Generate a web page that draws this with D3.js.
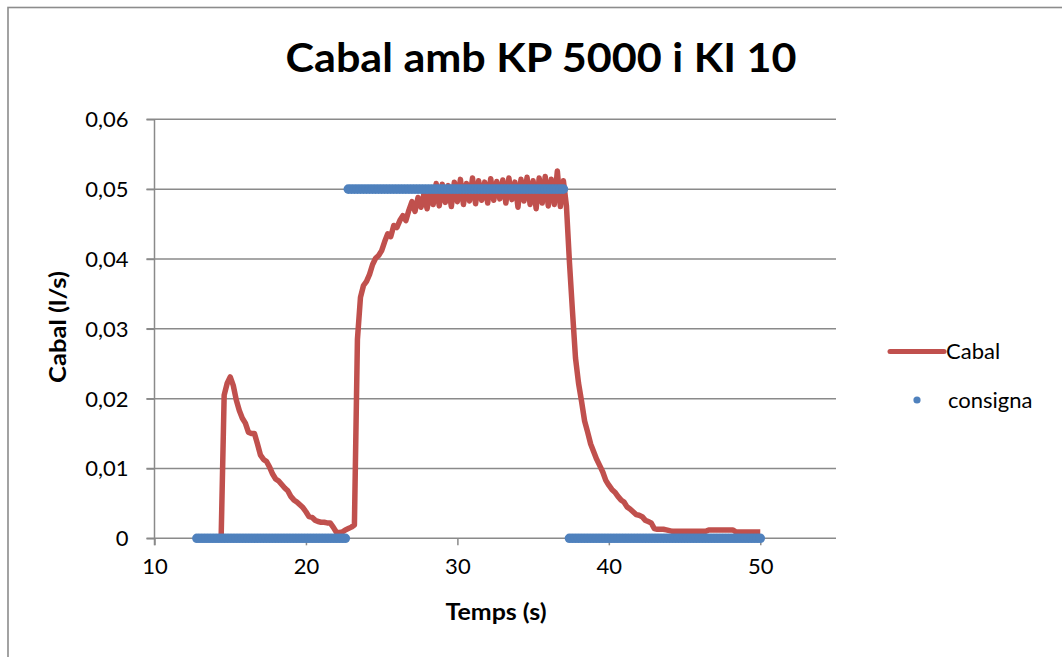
<!DOCTYPE html>
<html>
<head>
<meta charset="utf-8">
<script src="https://cdn.jsdelivr.net/npm/d3@7"></script>
<style>
  body { margin: 0; background: #fff; }
  text { font-family: Lato, "Open Sans", sans-serif; fill: #000; }
</style>
</head>
<body>
<div id="container"></div>
<script>
let w = 1062;
let h = 657;

let titol = 'Cabal amb KP 5000 i KI 10';
let titolX = 'Temps (s)';
let titolY = 'Cabal (l/s)';
let nomsSeries = ['Cabal', 'consigna'];

let xTicks = [10, 20, 30, 40, 50];
let yTicks = [0, 0.01, 0.02, 0.03, 0.04, 0.05, 0.06];

// sample times (s)
let temps = [
  12.8,
  13, 13.2, 13.4, 13.6, 13.8, 14, 14.2, 14.4, 14.6, 14.8,
  15, 15.2, 15.4, 15.6, 15.8, 16, 16.2, 16.4, 16.6, 16.8,
  17, 17.2, 17.4, 17.6, 17.8, 18, 18.2, 18.4, 18.6, 18.8,
  19, 19.2, 19.4, 19.6, 19.8, 20, 20.2, 20.4, 20.6, 20.8,
  21, 21.2, 21.4, 21.6, 21.8, 22, 22.2, 22.4, 22.6, 22.8,
  23, 23.2, 23.4, 23.6, 23.8, 24, 24.2, 24.4, 24.6, 24.8,
  25, 25.2, 25.4, 25.6, 25.8, 26, 26.2, 26.4, 26.6, 26.8,
  27, 27.2, 27.4, 27.6, 27.8, 28, 28.2, 28.4, 28.6, 28.8,
  29, 29.2, 29.4, 29.6, 29.8, 30, 30.2, 30.4, 30.6, 30.8,
  31, 31.2, 31.4, 31.6, 31.8, 32, 32.2, 32.4, 32.6, 32.8,
  33, 33.2, 33.4, 33.6, 33.8, 34, 34.2, 34.4, 34.6, 34.8,
  35, 35.2, 35.4, 35.6, 35.8, 36, 36.2, 36.4, 36.6, 36.8,
  37, 37.2, 37.4, 37.6, 37.8, 38, 38.2, 38.4, 38.6, 38.8,
  39, 39.2, 39.4, 39.6, 39.8, 40, 40.2, 40.4, 40.6, 40.8,
  41, 41.2, 41.4, 41.6, 41.8, 42, 42.2, 42.4, 42.6, 42.8,
  43, 43.2, 43.4, 43.6, 43.8, 44, 44.2, 44.4, 44.6, 44.8,
  45, 45.2, 45.4, 45.6, 45.8, 46, 46.2, 46.4, 46.6, 46.8,
  47, 47.2, 47.4, 47.6, 47.8, 48, 48.2, 48.4, 48.6, 48.8,
  49, 49.2, 49.4, 49.6, 49.8, 50
];

// measured flow (l/s)
let cabal = [
  0,
  0, 0, 0, 0, 0, 0, 0, 0, 0.0205, 0.0222,
  0.0231, 0.0219, 0.0198, 0.0183, 0.0172, 0.0165, 0.0152, 0.015, 0.015, 0.0135,
  0.0119, 0.0113, 0.011, 0.0102, 0.0092, 0.0085, 0.0082, 0.0077, 0.0072, 0.0068,
  0.006, 0.0055, 0.0052, 0.0048, 0.0044, 0.0038, 0.0031, 0.003, 0.0026, 0.0024,
  0.0023, 0.0023, 0.0022, 0.0022, 0.0016, 0.0009, 0.0008, 0.0009, 0.0012, 0.0014,
  0.0016, 0.0019, 0.0285, 0.0345, 0.0362, 0.0368, 0.0378, 0.0392, 0.0401, 0.0405,
  0.0412, 0.0425, 0.0436, 0.0432, 0.0448, 0.0445, 0.0455, 0.0462, 0.0455, 0.047,
  0.0482, 0.0468, 0.0488, 0.0474, 0.0494, 0.0472, 0.0495, 0.0478, 0.0508, 0.0476,
  0.0507, 0.0481, 0.0505, 0.0475, 0.0510, 0.0482, 0.0514, 0.0478, 0.0508, 0.0483,
  0.0516, 0.0479, 0.0512, 0.0484, 0.0510, 0.0480, 0.0515, 0.0484, 0.0511, 0.0486,
  0.0513, 0.0480, 0.0516, 0.0485, 0.0510, 0.0474, 0.0514, 0.0483, 0.0517, 0.0478,
  0.0512, 0.0472, 0.0516, 0.0480, 0.0518, 0.0476, 0.0514, 0.0478, 0.0526, 0.0475,
  0.0512, 0.0476, 0.0395, 0.0325, 0.0258, 0.0222, 0.0196, 0.0168, 0.0152, 0.0135,
  0.0124, 0.0113, 0.0104, 0.0095, 0.0083, 0.0076, 0.007, 0.0066, 0.006, 0.0055,
  0.0052, 0.0045, 0.0042, 0.0038, 0.0034, 0.0033, 0.0031, 0.0026, 0.0024, 0.0022,
  0.0014, 0.0013, 0.0013, 0.0013, 0.0012, 0.0011, 0.001, 0.001, 0.001, 0.001,
  0.001, 0.001, 0.001, 0.001, 0.001, 0.001, 0.001, 0.001, 0.0012, 0.0012,
  0.0012, 0.0012, 0.0012, 0.0012, 0.0012, 0.0012, 0.0012, 0.0009, 0.0009, 0.0009,
  0.0009, 0.0009, 0.0009, 0.0009, 0.0009, 0.0009
];

// set point (l/s), null = no sample drawn
let consigna = [
  0,
  0, 0, 0, 0, 0, 0, 0, 0, 0, 0,
  0, 0, 0, 0, 0, 0, 0, 0, 0, 0,
  0, 0, 0, 0, 0, 0, 0, 0, 0, 0,
  0, 0, 0, 0, 0, 0, 0, 0, 0, 0,
  0, 0, 0, 0, 0, 0, 0, 0, 0, 0.05,
  0.05, 0.05, 0.05, 0.05, 0.05, 0.05, 0.05, 0.05, 0.05, 0.05,
  0.05, 0.05, 0.05, 0.05, 0.05, 0.05, 0.05, 0.05, 0.05, 0.05,
  0.05, 0.05, 0.05, 0.05, 0.05, 0.05, 0.05, 0.05, 0.05, 0.05,
  0.05, 0.05, 0.05, 0.05, 0.05, 0.05, 0.05, 0.05, 0.05, 0.05,
  0.05, 0.05, 0.05, 0.05, 0.05, 0.05, 0.05, 0.05, 0.05, 0.05,
  0.05, 0.05, 0.05, 0.05, 0.05, 0.05, 0.05, 0.05, 0.05, 0.05,
  0.05, 0.05, 0.05, 0.05, 0.05, 0.05, 0.05, 0.05, 0.05, 0.05,
  0.05, null, 0, 0, 0, 0, 0, 0, 0, 0,
  0, 0, 0, 0, 0, 0, 0, 0, 0, 0,
  0, 0, 0, 0, 0, 0, 0, 0, 0, 0,
  0, 0, 0, 0, 0, 0, 0, 0, 0, 0,
  0, 0, 0, 0, 0, 0, 0, 0, 0, 0,
  0, 0, 0, 0, 0, 0, 0, 0, 0, 0,
  0, 0, 0, 0, 0, 0
];

let red = '#C0504D';
let blue = '#4F81BD';
let gridColor = '#8A8A8A';

let plot = { left: 154.5, right: 836, top: 119.3, bottom: 538.3 };

let svg = d3.select('#container')
  .append('svg')
    .attr('width', w)
    .attr('height', h);

// chart frame
svg.append('rect')
  .attr('x', 8)
  .attr('y', 7.5)
  .attr('width', w + 10)
  .attr('height', h + 10)
  .attr('fill', '#fff')
  .attr('stroke', '#8C8C8C')
  .attr('stroke-width', 1.6);

let x = d3.scaleLinear().domain([10, 55]).range([plot.left, plot.right]);
let y = d3.scaleLinear().domain([0, 0.06]).range([plot.bottom, plot.top]);

let coma = d => String(d).replace('.', ',');

//horizontal gridlines
svg.append('g')
  .selectAll('line')
  .data(yTicks)
  .enter()
  .append('line')
    .attr('x1', plot.left - 8)
    .attr('x2', plot.right)
    .attr('y1', d => y(d))
    .attr('y2', d => y(d))
    .attr('stroke', gridColor)
    .attr('stroke-width', 1.5);

// y axis
let yAxis = svg.append('g')
  .attr('transform', 'translate(' + plot.left + ',0)')
  .call(d3.axisLeft(y).tickValues(yTicks).tickFormat(coma).tickSize(8).tickPadding(18));
yAxis.select('.domain').remove();
yAxis.selectAll('line').attr('stroke', gridColor).attr('stroke-width', 1.5);
yAxis.selectAll('text').style('font-size', '22px').attr('dy', '0.34em');

svg.append('line')
  .attr('x1', plot.left).attr('x2', plot.left)
  .attr('y1', plot.top).attr('y2', plot.bottom + 7)
  .attr('stroke', gridColor).attr('stroke-width', 1.5);

// x axis
let xAxis = svg.append('g')
  .attr('transform', 'translate(0,' + plot.bottom + ')')
  .call(d3.axisBottom(x).tickValues(xTicks).tickSize(7).tickPadding(13));
xAxis.select('.domain').remove();
xAxis.selectAll('line').attr('stroke', gridColor).attr('stroke-width', 1.5);
xAxis.selectAll('text').style('font-size', '22px');

// Cabal line
let linia = d3.line()
  .x((d, i) => x(temps[i]))
  .y(d => y(d));

svg.append('path')
  .datum(cabal)
  .attr('d', linia)
  .attr('fill', 'none')
  .attr('stroke', red)
  .attr('stroke-width', 5.5)
  .attr('stroke-linejoin', 'round');

// consigna markers
svg.append('g')
  .selectAll('circle')
  .data(consigna.map((v, i) => ({ t: temps[i], v: v })).filter(d => d.v !== null))
  .enter()
  .append('circle')
    .attr('cx', d => x(d.t))
    .attr('cy', d => y(d.v))
    .attr('r', 4.8)
    .attr('fill', blue);

// titles
svg.append('text')
  .attr('x', 541)
  .attr('y', 72)
  .attr('text-anchor', 'middle')
  .attr('textLength', 511)
  .attr('lengthAdjust', 'spacingAndGlyphs')
  .style('font-size', '40px')
  .style('font-weight', 'bold')
  .text(titol);

svg.append('text')
  .attr('x', 496)
  .attr('y', 620)
  .attr('text-anchor', 'middle')
  .attr('textLength', 101)
  .attr('lengthAdjust', 'spacingAndGlyphs')
  .style('font-size', '22px')
  .style('font-weight', 'bold')
  .text(titolX);

svg.append('text')
  .attr('transform', 'translate(66,327) rotate(-90)')
  .attr('text-anchor', 'middle')
  .attr('textLength', 112)
  .attr('lengthAdjust', 'spacingAndGlyphs')
  .style('font-size', '22px')
  .style('font-weight', 'bold')
  .text(titolY);

// legend
let llegenda = svg.append('g');
llegenda.append('line')
  .attr('x1', 890).attr('x2', 944)
  .attr('y1', 351.5).attr('y2', 351.5)
  .attr('stroke', red)
  .attr('stroke-width', 5)
  .attr('stroke-linecap', 'round');
llegenda.append('text')
  .attr('x', 946).attr('y', 359)
  .style('font-size', '22px')
  .text(nomsSeries[0]);
llegenda.append('circle')
  .attr('cx', 917).attr('cy', 400)
  .attr('r', 3.6)
  .attr('fill', blue);
llegenda.append('text')
  .attr('x', 948).attr('y', 408)
  .style('font-size', '22px')
  .text(nomsSeries[1]);
</script>
</body>
</html>
